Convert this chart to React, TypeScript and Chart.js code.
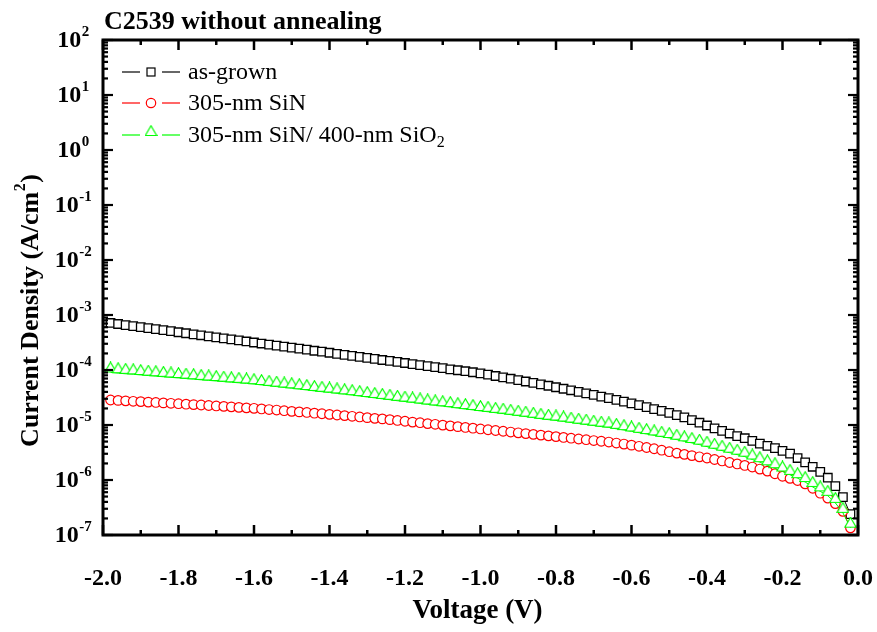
import React, { useEffect, useRef } from 'react';
import { Chart, registerables } from 'chart.js';

Chart.register(...registerables);

const chartTitle = 'C2539 without annealing';
const xAxisTitle = 'Voltage (V)';
const yAxisTitleMain = 'Current Density (A/cm';
const yAxisTitleSup = '2';
const yAxisTitleEnd = ')';

const seriesNames = ['as-grown', '305-nm SiN', '305-nm SiN/ 400-nm SiO'];
const seriesColors = ['#000000', '#ff0000', '#00ff00'];

const voltage = [
  -1.98, -1.96, -1.94, -1.92, -1.9, -1.88, -1.86, -1.84, -1.82, -1.8,
  -1.78, -1.76, -1.74, -1.72, -1.7, -1.68, -1.66, -1.64, -1.62, -1.6,
  -1.58, -1.56, -1.54, -1.52, -1.5, -1.48, -1.46, -1.44, -1.42, -1.4,
  -1.38, -1.36, -1.34, -1.32, -1.3, -1.28, -1.26, -1.24, -1.22, -1.2,
  -1.18, -1.16, -1.14, -1.12, -1.1, -1.08, -1.06, -1.04, -1.02, -1.0,
  -0.98, -0.96, -0.94, -0.92, -0.9, -0.88, -0.86, -0.84, -0.82, -0.8,
  -0.78, -0.76, -0.74, -0.72, -0.7, -0.68, -0.66, -0.64, -0.62, -0.6,
  -0.58, -0.56, -0.54, -0.52, -0.5, -0.48, -0.46, -0.44, -0.42, -0.4,
  -0.38, -0.36, -0.34, -0.32, -0.3, -0.28, -0.26, -0.24, -0.22, -0.2,
  -0.18, -0.16, -0.14, -0.12, -0.1, -0.08, -0.06, -0.04, -0.02,
];

const asGrown = [
  7.16e-4, 6.86e-4, 6.57e-4, 6.3e-4, 6.03e-4, 5.78e-4, 5.53e-4, 5.3e-4, 5.08e-4, 4.86e-4,
  4.66e-4, 4.46e-4, 4.28e-4, 4.1e-4, 3.92e-4, 3.76e-4, 3.6e-4, 3.45e-4, 3.3e-4, 3.16e-4,
  3.03e-4, 2.9e-4, 2.78e-4, 2.66e-4, 2.55e-4, 2.44e-4, 2.34e-4, 2.24e-4, 2.15e-4, 2.06e-4,
  1.97e-4, 1.89e-4, 1.81e-4, 1.73e-4, 1.66e-4, 1.59e-4, 1.52e-4, 1.46e-4, 1.4e-4, 1.34e-4,
  1.28e-4, 1.23e-4, 1.18e-4, 1.13e-4, 1.08e-4, 1.03e-4, 9.9e-5, 9.5e-5, 9.1e-5, 8.7e-5,
  8.23e-5, 7.78e-5, 7.35e-5, 6.94e-5, 6.55e-5, 6.18e-5, 5.83e-5, 5.49e-5, 5.17e-5, 4.86e-5,
  4.56e-5, 4.28e-5, 4.01e-5, 3.76e-5, 3.52e-5, 3.29e-5, 3.07e-5, 2.86e-5, 2.66e-5, 2.47e-5,
  2.29e-5, 2.11e-5, 1.95e-5, 1.8e-5, 1.66e-5, 1.51e-5, 1.38e-5, 1.23e-5, 1.1e-5, 9.8e-6,
  8.7e-6, 7.8e-6, 7.0e-6, 6.3e-6, 5.75e-6, 5.13e-6, 4.57e-6, 4.17e-6, 3.8e-6, 3.39e-6,
  3.02e-6, 2.51e-6, 2.09e-6, 1.74e-6, 1.41e-6, 1.1e-6, 7.76e-7, 4.9e-7, 2.4e-7,
];

const sin305 = [
  2.85e-5, 2.8e-5, 2.75e-5, 2.7e-5, 2.66e-5, 2.61e-5, 2.57e-5, 2.52e-5, 2.48e-5, 2.44e-5,
  2.39e-5, 2.35e-5, 2.31e-5, 2.26e-5, 2.22e-5, 2.18e-5, 2.14e-5, 2.09e-5, 2.05e-5, 2.01e-5,
  1.96e-5, 1.91e-5, 1.87e-5, 1.82e-5, 1.77e-5, 1.73e-5, 1.69e-5, 1.64e-5, 1.6e-5, 1.56e-5,
  1.52e-5, 1.48e-5, 1.44e-5, 1.4e-5, 1.36e-5, 1.32e-5, 1.29e-5, 1.25e-5, 1.21e-5, 1.17e-5,
  1.13e-5, 1.1e-5, 1.06e-5, 1.03e-5, 9.95e-6, 9.64e-6, 9.33e-6, 9.03e-6, 8.75e-6, 8.47e-6,
  8.2e-6, 7.94e-6, 7.69e-6, 7.45e-6, 7.21e-6, 6.98e-6, 6.76e-6, 6.55e-6, 6.34e-6, 6.14e-6,
  5.94e-6, 5.75e-6, 5.57e-6, 5.4e-6, 5.22e-6, 5.06e-6, 4.9e-6, 4.7e-6, 4.5e-6, 4.3e-6,
  4.1e-6, 3.9e-6, 3.7e-6, 3.48e-6, 3.27e-6, 3.08e-6, 2.92e-6, 2.78e-6, 2.64e-6, 2.51e-6,
  2.36e-6, 2.22e-6, 2.08e-6, 1.96e-6, 1.84e-6, 1.72e-6, 1.58e-6, 1.45e-6, 1.3e-6, 1.17e-6,
  1.07e-6, 9.77e-7, 8.51e-7, 7.08e-7, 5.75e-7, 4.68e-7, 3.72e-7, 2.69e-7, 1.35e-7,
];

const sinSio2 = [
  9.02e-5, 8.77e-5, 8.53e-5, 8.36e-5, 8.13e-5, 7.92e-5, 7.72e-5, 7.53e-5, 7.34e-5, 7.16e-5,
  6.98e-5, 6.81e-5, 6.63e-5, 6.47e-5, 6.31e-5, 6.15e-5, 5.99e-5, 5.85e-5, 5.7e-5, 5.54e-5,
  5.35e-5, 5.17e-5, 4.99e-5, 4.81e-5, 4.66e-5, 4.49e-5, 4.33e-5, 4.17e-5, 4.03e-5, 3.9e-5,
  3.76e-5, 3.63e-5, 3.5e-5, 3.36e-5, 3.23e-5, 3.11e-5, 2.99e-5, 2.88e-5, 2.76e-5, 2.67e-5,
  2.57e-5, 2.47e-5, 2.37e-5, 2.28e-5, 2.2e-5, 2.12e-5, 2.03e-5, 1.95e-5, 1.88e-5, 1.8e-5,
  1.74e-5, 1.67e-5, 1.61e-5, 1.54e-5, 1.48e-5, 1.42e-5, 1.36e-5, 1.3e-5, 1.25e-5, 1.21e-5,
  1.16e-5, 1.11e-5, 1.06e-5, 1.02e-5, 9.76e-6, 9.35e-6, 9.02e-6, 8.53e-6, 8.09e-6, 7.65e-6,
  7.24e-6, 6.86e-6, 6.49e-6, 6.13e-6, 5.81e-6, 5.42e-6, 5.06e-6, 4.72e-6, 4.4e-6, 4.04e-6,
  3.71e-6, 3.42e-6, 3.14e-6, 2.89e-6, 2.66e-6, 2.36e-6, 2.11e-6, 1.85e-6, 1.64e-6, 1.43e-6,
  1.24e-6, 1.08e-6, 9.18e-7, 7.48e-7, 6.22e-7, 5.17e-7, 3.84e-7, 2.53e-7, 1.36e-7,
];

const xMajorTicks = [-2.0, -1.8, -1.6, -1.4, -1.2, -1.0, -0.8, -0.6, -0.4, -0.2, 0.0];
const xMinorTicks = [-1.9, -1.7, -1.5, -1.3, -1.1, -0.9, -0.7, -0.5, -0.3, -0.1];
const yDecadeExponents = [2, 1, 0, -1, -2, -3, -4, -5, -6, -7];
const yMinorMantissas = [2, 3, 4, 5, 6, 7, 8, 9];

const SERIF = '"Liberation Serif", "Times New Roman", serif';

function makeTriangle(color: string): HTMLCanvasElement {
  const c = document.createElement('canvas');
  c.width = 13;
  c.height = 22;
  const g = c.getContext('2d')!;
  g.beginPath();
  g.moveTo(6.5, 0.8);
  g.lineTo(12.2, 10.5);
  g.lineTo(0.8, 10.5);
  g.closePath();
  g.fillStyle = '#ffffff';
  g.fill();
  g.strokeStyle = color;
  g.lineWidth = 1.2;
  g.stroke();
  return c;
}

export default function App() {
  const ref = useRef<HTMLCanvasElement | null>(null);

  useEffect(() => {
    if (!ref.current) return;
    const tri = makeTriangle(seriesColors[2]);

    const decorPlugin = {
      id: 'decor',
      afterDraw(chart: any) {
        const ctx = chart.ctx as CanvasRenderingContext2D;
        const { left, right, top, bottom } = chart.chartArea;
        const xs = chart.scales.x;
        const ys = chart.scales.y;
        ctx.save();
        ctx.strokeStyle = '#000';
        ctx.fillStyle = '#000';

        ctx.lineWidth = 2.5;
        ctx.lineCap = 'butt';
        const tick = (x1: number, y1: number, x2: number, y2: number) => {
          ctx.beginPath();
          ctx.moveTo(x1, y1);
          ctx.lineTo(x2, y2);
          ctx.stroke();
        };
        xMajorTicks.forEach((v) => {
          const px = xs.getPixelForValue(v);
          tick(px, bottom, px, bottom - 10);
          tick(px, top, px, top + 10);
        });
        xMinorTicks.forEach((v) => {
          const px = xs.getPixelForValue(v);
          tick(px, bottom, px, bottom - 5);
          tick(px, top, px, top + 5);
        });
        ctx.lineWidth = 2.2;
        yDecadeExponents.forEach((e) => {
          const py = ys.getPixelForValue(Math.pow(10, e));
          tick(left, py, left + 10, py);
          tick(right, py, right - 10, py);
          if (e < 2) {
            yMinorMantissas.forEach((m) => {
              const q = ys.getPixelForValue(m * Math.pow(10, e));
              tick(left, q, left + 5, q);
              tick(right, q, right - 5, q);
            });
          }
        });

        ctx.lineWidth = 3;
        ctx.strokeRect(left, top, right - left, bottom - top);

        ctx.font = `bold 24px ${SERIF}`;
        ctx.textAlign = 'center';
        ctx.textBaseline = 'middle';
        xMajorTicks.forEach((v) => {
          const px = xs.getPixelForValue(v);
          ctx.fillText(v.toFixed(1), px, bottom + 44);
        });

        yDecadeExponents.forEach((e) => {
          const py = ys.getPixelForValue(Math.pow(10, e));
          ctx.font = `bold 24px ${SERIF}`;
          const baseW = ctx.measureText('10').width;
          ctx.font = `bold 15px ${SERIF}`;
          const sup = String(e);
          const supW = ctx.measureText(sup).width;
          const total = baseW + supW;
          const startX = 73 - total / 2;
          ctx.textAlign = 'left';
          ctx.textBaseline = 'middle';
          ctx.font = `bold 24px ${SERIF}`;
          ctx.fillText('10', startX, py + 1);
          ctx.font = `bold 15px ${SERIF}`;
          ctx.fillText(sup, startX + baseW + 0.5, py - 8);
        });

        ctx.font = `bold 26px ${SERIF}`;
        ctx.textAlign = 'left';
        ctx.textBaseline = 'alphabetic';
        ctx.fillText(chartTitle, left + 1, 29);

        ctx.font = `bold 27px ${SERIF}`;
        ctx.textAlign = 'center';
        ctx.textBaseline = 'middle';
        ctx.fillText(xAxisTitle, (left + right) / 2 - 3, 611);

        ctx.save();
        ctx.translate(31, 311);
        ctx.rotate(-Math.PI / 2);
        ctx.font = `bold 26px ${SERIF}`;
        const w1 = ctx.measureText(yAxisTitleMain).width;
        ctx.font = `bold 16px ${SERIF}`;
        const w2 = ctx.measureText(yAxisTitleSup).width;
        ctx.font = `bold 26px ${SERIF}`;
        const w3 = ctx.measureText(yAxisTitleEnd).width;
        const tw = w1 + w2 + w3;
        let cx = -tw / 2;
        ctx.textAlign = 'left';
        ctx.textBaseline = 'middle';
        ctx.fillText(yAxisTitleMain, cx, 0);
        cx += w1;
        ctx.font = `bold 16px ${SERIF}`;
        ctx.fillText(yAxisTitleSup, cx + 0.5, -10);
        cx += w2 + 1;
        ctx.font = `bold 26px ${SERIF}`;
        ctx.fillText(yAxisTitleEnd, cx, 0);
        ctx.restore();

        const rows = [72, 103, 135];
        rows.forEach((ry, i) => {
          const col = seriesColors[i];
          ctx.strokeStyle = col;
          ctx.lineWidth = 1.2;
          tick(122, ry, 140, ry);
          tick(162, ry, 180, ry);
          if (i === 0) {
            ctx.fillStyle = '#fff';
            ctx.fillRect(147, ry - 4, 8, 8);
            ctx.strokeRect(147, ry - 4, 8, 8);
          } else if (i === 1) {
            ctx.beginPath();
            ctx.arc(151, ry, 4.7, 0, Math.PI * 2);
            ctx.fillStyle = '#fff';
            ctx.fill();
            ctx.stroke();
          } else {
            ctx.drawImage(tri, 151 - tri.width / 2, ry + 1 - tri.height / 2);
          }
          ctx.fillStyle = '#000';
          ctx.font = `24px ${SERIF}`;
          ctx.textAlign = 'left';
          ctx.textBaseline = 'middle';
          ctx.fillText(seriesNames[i], 188, ry + 1);
          if (i === 2) {
            const w = ctx.measureText(seriesNames[i]).width;
            ctx.font = `16px ${SERIF}`;
            ctx.fillText('2', 188 + w, ry + 8);
          }
        });

        ctx.restore();
      },
    };

    const chart = new Chart(ref.current, {
      type: 'line',
      data: {
        datasets: [
          {
            label: seriesNames[0],
            data: voltage.map((v, i) => ({ x: v, y: asGrown[i] })),
            borderColor: seriesColors[0],
            borderWidth: 1,
            pointStyle: 'rect',
            pointRadius: 6,
            pointBorderWidth: 1.3,
            pointBackgroundColor: '#ffffff',
            pointBorderColor: seriesColors[0],
            order: 3,
          },
          {
            label: seriesNames[1],
            data: voltage.map((v, i) => ({ x: v, y: sin305[i] })),
            borderColor: seriesColors[1],
            borderWidth: 1,
            pointStyle: 'circle',
            pointRadius: 4.8,
            pointBorderWidth: 1.2,
            pointBackgroundColor: '#ffffff',
            pointBorderColor: seriesColors[1],
            order: 2,
          },
          {
            label: seriesNames[2] + '2',
            data: voltage.map((v, i) => ({ x: v, y: sinSio2[i] })),
            borderColor: seriesColors[2],
            borderWidth: 1,
            pointStyle: tri as any,
            pointRadius: 6,
            pointBorderWidth: 1,
            pointBackgroundColor: '#ffffff',
            pointBorderColor: seriesColors[2],
            order: 1,
          },
        ],
      },
      options: {
        responsive: false,
        animation: false,
        events: [],
        layout: { padding: { left: 103, right: 19, top: 40, bottom: 97 } },
        plugins: { legend: { display: false }, tooltip: { enabled: false }, title: { display: false } },
        scales: {
          x: { type: 'linear', min: -2, max: 0, display: false },
          y: { type: 'logarithmic', min: 1e-7, max: 1e2, display: false },
        },
      },
      plugins: [decorPlugin],
    });
    return () => chart.destroy();
  }, []);

  return (
    <div style={{ position: 'absolute', left: 0, top: 0, width: 877, height: 632, background: '#fff' }}>
      <canvas ref={ref} width={877} height={632} style={{ display: 'block' }} />
    </div>
  );
}
